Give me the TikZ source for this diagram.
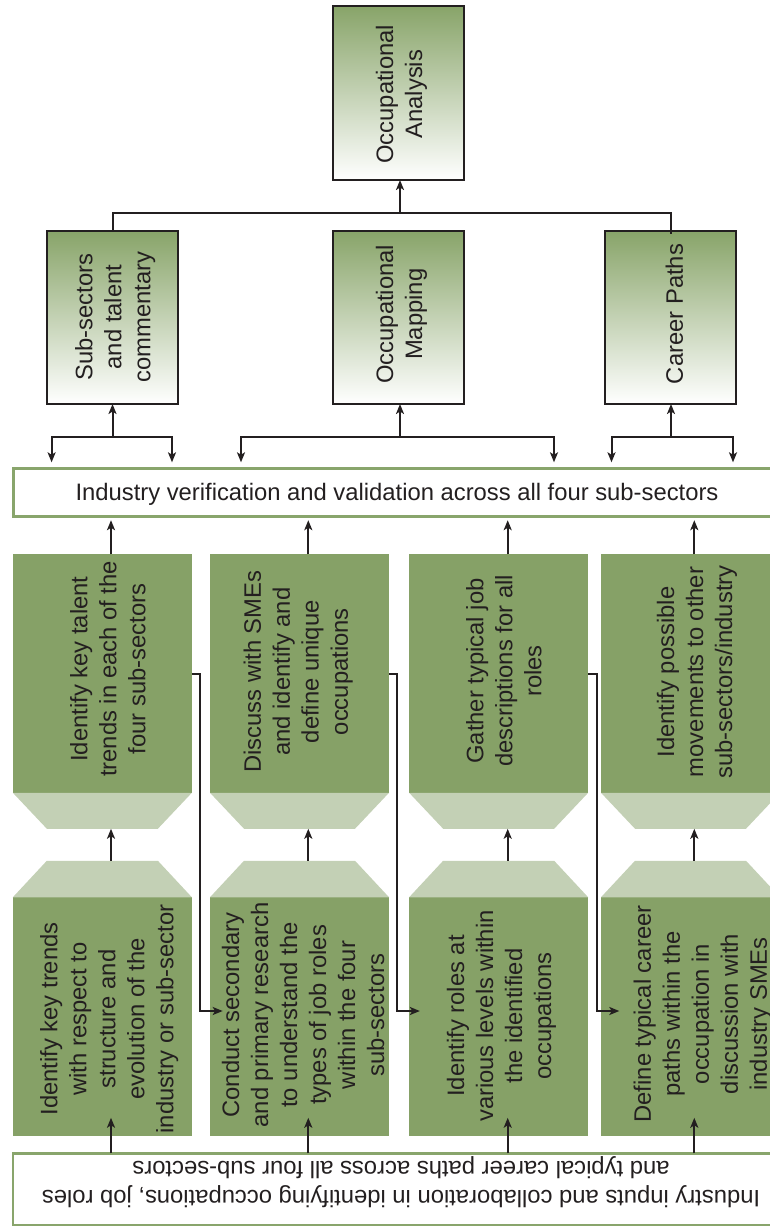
\documentclass[tikz,border=0pt]{standalone}
\usepackage{fontspec}
\setmainfont{Liberation Sans}
\usetikzlibrary{calc,arrows.meta}

\definecolor{ink}{RGB}{35,31,32}
\definecolor{stepgreen}{RGB}{134,161,103}
\definecolor{steplight}{RGB}{195,208,181}
\definecolor{headgreen}{RGB}{136,164,105}
\definecolor{framegreen}{RGB}{137,165,108}

\begin{document}
\begin{tikzpicture}[x=1pt,y=-1pt,
  >={Stealth[length=10pt,width=8pt,inset=2.5pt]},
  headbox/.style={draw=ink, line width=2.2pt, top color=headgreen, bottom color=white,
    minimum width=131pt, minimum height=173pt, inner sep=0pt, outer sep=0pt},
  stepbox/.style={fill=stepgreen, minimum width=179pt, minimum height=238.5pt,
    inner sep=0pt, outer sep=0pt},
  trap/.style={fill=steplight},
  framebox/.style={draw=framegreen, line width=2.6pt, fill=white,
    inner sep=0pt, outer sep=0pt},
  vtext/.style={rotate=90, anchor=north, inner sep=0pt, align=center, text=ink,
    font=\fontsize{23.8}{29}\selectfont},
  htext/.style={inner sep=0pt, text=ink, align=center, font=\fontsize{23.8}{29}\selectfont},
  conn/.style={draw=ink, line width=2pt},
]
\clip (0,0) rectangle (770,1226);
\fill[white] (0,0) rectangle (770,1226);

% ---- result boxes (green to white) ----
\node[headbox, minimum height=174pt] (oa) at (398.5,93) {};
\node[headbox] (s1) at (112.5,317.5) {};
\node[headbox] (s2) at (398.5,317.5) {};
\node[headbox] (s3) at (670.5,317.5) {};

% ---- validation band and input band ----
\node[framebox, minimum width=800pt, minimum height=48.4pt, anchor=west] (v) at (13.5,492.5) {};
\node[framebox, minimum width=800pt, minimum height=72pt, anchor=north west] (w) at (13,1153.3) {};

% ---- process steps ----
\node[stepbox] (ua) at (102.35,673.5) {};
\node[stepbox] (ub) at (299.5,673.5) {};
\node[stepbox] (uc) at (498.65,673.5) {};
\node[stepbox] (ud) at (690.5,673.5) {};
\node[stepbox] (la) at (102.35,1016.5) {};
\node[stepbox] (lb) at (299.5,1016.5) {};
\node[stepbox] (lc) at (498.65,1016.5) {};
\node[stepbox] (ld) at (690.5,1016.5) {};

\foreach \b in {ua,ub,uc,ud}
  \fill[trap] (\b.south west) -- (\b.south east) -- ++(-34,36)
    -- ($(\b.south west)+(34,36)$) -- cycle;
\foreach \b in {la,lb,lc,ld}
  \fill[trap] (\b.north west) -- (\b.north east) -- ++(-34,-36.5)
    -- ($(\b.north west)+(34,-36.5)$) -- cycle;

% ---- texts ----
\node[vtext] (oat) at (375.7,94.2) {Occupational\\Analysis};
\node[vtext] (s1t) at (75,317) {Sub-sectors\\and talent\\commentary};
\node[vtext] (s2t) at (375.7,314.2) {Occupational\\Mapping};
\node[vtext] (s3t) at (665.5,314) {Career Paths};
\node[htext, anchor=base] (vt) at (397,500.7)
  {Industry verification and validation across all four sub-sectors};
\node[vtext] (uat) at (70,669) {Identify key talent\\trends in each of the\\four sub-sectors};
\node[vtext] (ubt) at (243.3,671.7) {Discuss with SMEs\\and identify and\\define unique\\occupations};
\node[vtext] (uct) at (466,671) {Gather typical job\\descriptions for all\\roles};
\node[vtext] (udt) at (656.7,672) {Identify possible\\movements to other\\sub-sectors/industry};
\node[vtext] (lat) at (40,1019) {Identify key trends\\with respect to\\structure and\\evolution of the\\industry or sub-sector};
\node[vtext] (lbt) at (221.7,1015) {Conduct secondary\\and primary research\\to understand the\\types of job roles\\within the four\\sub-sectors};
\node[vtext] (lct) at (446.7,1016) {Identify roles at\\various levels within\\the identified\\occupations};
\node[vtext] (ldt) at (633.3,1014) {Define typical career\\paths within the\\occupation in\\discussion with\\industry SMEs};
\node[htext, rotate=180, anchor=north] (wt) at (401,1208)
  {Industry inputs and collaboration in identifying occupations, job roles\\and typical career paths across all four sub-sectors};

% ---- columns of the step flow ----
\coordinate (cA) at (111,0);
\coordinate (cB) at (308.3,0);
\coordinate (cC) at (507.7,0);
\coordinate (cD) at (694.3,0);

% inputs into the first steps
\foreach \l/\c in {la/cA,lb/cB,lc/cC,ld/cD}
  \draw[conn,->] (w.north -| \c) -- ($(\l.south -| \c)+(0,-18)$);
% first steps into second steps
\foreach \l/\u/\c in {la/ua/cA,lb/ub/cB,lc/uc/cC,ld/ud/cD}
  \draw[conn,->] ($(\l.north -| \c)+(0,-36.5)$) -- ($(\u.south -| \c)+(0,36)$);
% second steps into validation
\foreach \u/\c in {ua/cA,ub/cB,uc/cC,ud/cD}
  \draw[conn,->] (\u.north -| \c) -- ($(v.south -| \c)+(0,3.5)$);

% hand-over from each second step to the next first step
\draw[conn,->] (ua.east) -- ++(8.3,0) |- ($(lb.west)+(12.7,-5.5)$);
\draw[conn,->] (ub.east) -- ++(8.3,0) |- ($(lc.west)+(10.7,-5.5)$);
\draw[conn,->] (uc.east) -- ++(8.7,0) |- ($(ld.west)+(18.3,-5.5)$);

% validation feeding the three results
\coordinate (s1l) at (51.6,437);
\coordinate (s1r) at (172,437);
\coordinate (s2l) at (241,437);
\coordinate (s2r) at (554,437);
\coordinate (s3l) at (611.5,437);
\coordinate (s3r) at (733,437);
\coordinate (s2m) at (400,437);
\coordinate (s3m) at (671,437);
\draw[conn,->] (s1.south |- s1l) -- (s1.south);
\draw[conn,->] (s2m) -- (s2m |- s2.south);
\draw[conn,->] (s3m) -- (s3m |- s3.south);
\draw[conn,<->] ($(v.north -| s1l)+(0,-6)$) -- (s1l) -- (s1r) -- ($(v.north -| s1r)+(0,-6)$);
\draw[conn,<->] ($(v.north -| s2l)+(0,-6)$) -- (s2l) -- (s2r) -- ($(v.north -| s2r)+(0,-6)$);
\draw[conn,<->] ($(v.north -| s3l)+(0,-6)$) -- (s3l) -- (s3r) -- ($(v.north -| s3r)+(0,-6)$);

% results into the overall analysis
\coordinate (tj) at (400,213);
\draw[conn] (s1.north) |- (tj) -| ($(s3.north)+(0,3)$);
\draw[conn,->] (tj) -- (tj |- oa.south);
\end{tikzpicture}
\end{document}
